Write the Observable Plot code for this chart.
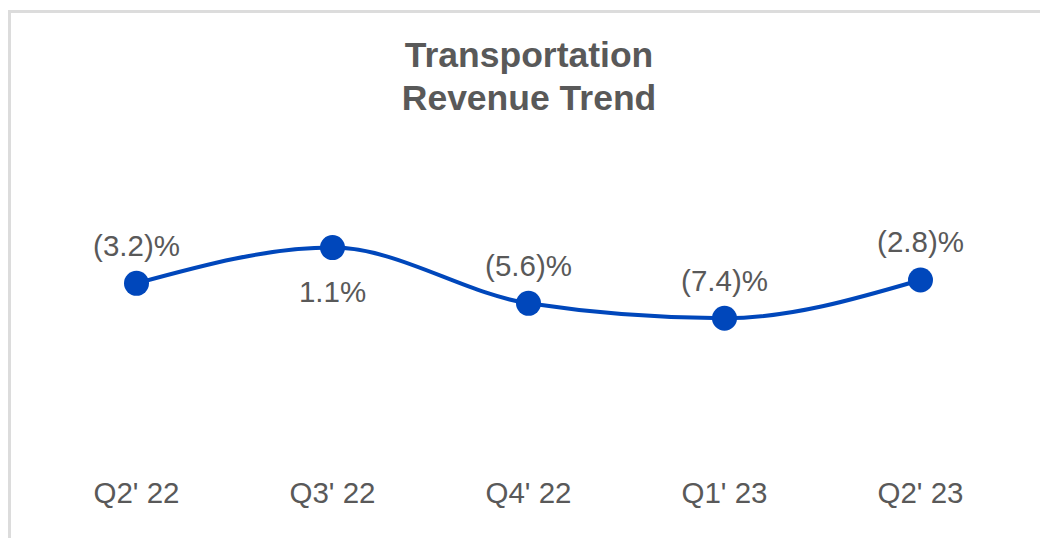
<!DOCTYPE html>
<html>
<head>
<meta charset="utf-8">
<script src="https://cdn.jsdelivr.net/npm/d3@7"></script>
<script src="https://cdn.jsdelivr.net/npm/@observablehq/plot@0.6"></script>
<style>
  html, body { margin: 0; padding: 0; background: #fff; width: 1040px; height: 538px; overflow: hidden; }
  #frame { position: absolute; left: 8px; top: 10px; width: 1040px; height: 540px;
           border-top: 3px solid #dcdcdc; border-left: 3px solid #dcdcdc; }
  #title { position: absolute; left: 229px; width: 600px; top: 34px; text-align: center;
           font-family: "Liberation Sans", Arial, sans-serif; font-weight: bold; font-size: 35.5px;
           line-height: 43px; color: #595959; }
  #chart { position: absolute; left: 0; top: 0; }
</style>
</head>
<body>
<div id="frame"></div>
<div id="title">Transportation<br>Revenue Trend</div>
<div id="chart"></div>
<script>
const quarters = ["Q2' 22", "Q3' 22", "Q4' 22", "Q1' 23", "Q2' 23"];
const growth = [-3.2, 1.1, -5.6, -7.4, -2.8];
const labelBelow = [false, true, false, false, false];

const data = quarters.map((q, i) => ({
  q, v: growth[i], below: labelBelow[i],
  label: growth[i] < 0 ? `(${Math.abs(growth[i]).toFixed(1)})%` : `${growth[i].toFixed(1)}%`
}));

const blue = "#0047BB";
const grey = "#595959";
const fs = 29.5;

const plot = Plot.plot({
  width: 1040,
  height: 538,
  marginLeft: 136,
  marginRight: 120,
  marginTop: 223,
  marginBottom: 182,
  style: { fontFamily: "'Liberation Sans', Arial, sans-serif", background: "transparent" },
  x: { type: "point", domain: quarters, padding: 0 },
  y: { domain: [-12, 4], axis: null },
  marks: [
    Plot.axisX({ tickSize: 0, tickPadding: 126, fontSize: fs, color: grey, label: null }),
    Plot.line(data, { x: "q", y: "v", curve: "monotone-x", stroke: blue, strokeWidth: 4 }),
    Plot.dot(data, { x: "q", y: "v", r: 12.5, fill: blue, stroke: "none" }),
    Plot.text(data.filter(d => !d.below), { x: "q", y: "v", text: "label", dy: -37, fontSize: fs, fill: grey }),
    Plot.text(data.filter(d => d.below), { x: "q", y: "v", text: "label", dy: 45, fontSize: fs, fill: grey })
  ]
});
document.getElementById("chart").appendChild(plot);
</script>
</body>
</html>
